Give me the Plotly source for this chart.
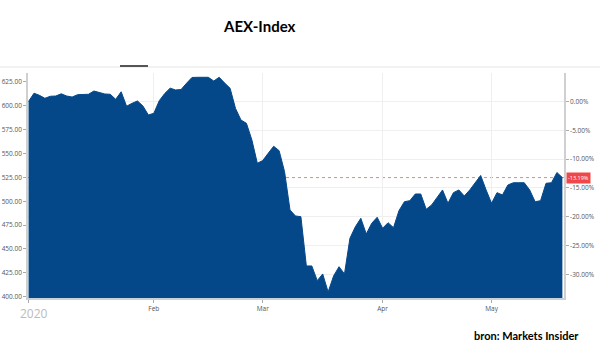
import plotly.graph_objects as go

# AEX closing values per trading day (31 Dec 2019 .. 21 May 2020)
aex_close = [
    604.6, 613.2, 611.0, 607.9, 610.0, 610.3, 612.6, 610.3, 609.2, 611.7,
    611.9, 612.1, 615.5, 614.2, 612.4, 612.1, 606.8, 614.7, 599.6, 602.6,
    605.1, 599.8, 590.4, 592.2, 605.4, 612.9, 618.5, 616.6, 617.1, 623.6,
    629.7, 629.9, 629.9, 629.9, 626.0, 629.9, 623.9, 618.4, 597.2, 585.1,
    581.7, 564.2, 539.8, 542.7, 550.3, 557.6, 553.0, 531.0, 490.8, 484.6,
    483.8, 432.2, 432.2, 416.8, 423.8, 404.9, 421.7, 431.4, 423.8, 461.2,
    473.3, 482.1, 465.7, 476.9, 483.2, 471.7, 477.5, 472.3, 490.1, 499.5,
    500.6, 507.6, 507.6, 491.6, 496.1, 504.5, 511.8, 497.9, 509.0, 511.8,
    505.5, 511.8, 519.1, 527.0, 511.8, 497.9, 509.0, 506.6, 517.0, 519.4,
    519.4, 519.4, 511.8, 499.5, 500.6, 518.8, 519.4, 530.1, 524.8,
]
day_index = list(range(len(aex_close)))

base_value = 604.6
last_change_label = "-13.19%"

month_tick_index = [0, 23, 43, 65, 85]
month_tick_text = ["", "Feb", "Mar", "Apr", "May"]

price_ticks = [400, 425, 450, 475, 500, 525, 550, 575, 600, 625]
pct_ticks = [0, -5, -10, -15, -20, -25, -30]
pct_tick_text = ["0.00%", "-5.00%", "-10.00%", "-15.00%", "-20.00%", "-25.00%", "-30.00%"]

y_range = [398.6, 634.4]
pct_range = [(v / base_value - 1) * 100 for v in y_range]

blue = "#04488a"

fig = go.Figure()
fig.add_trace(go.Scatter(
    x=day_index, y=aex_close, mode="lines", fill="tozeroy",
    line=dict(color=blue, width=1), fillcolor=blue,
    showlegend=False, hoverinfo="skip",
))
fig.add_trace(go.Scatter(x=[None], y=[None], yaxis="y2", showlegend=False))

tick_font = dict(family="Open Sans, sans-serif", size=6.5, color="#555555")

fig.update_layout(
    width=600, height=353,
    margin=dict(l=28, r=36, t=73, b=55),
    paper_bgcolor="white", plot_bgcolor="white",
    xaxis=dict(
        range=[-0.1, 98.3], tickvals=month_tick_index, ticktext=month_tick_text,
        showgrid=True, gridcolor="#efefef", gridwidth=1,
        ticks="outside", ticklen=3, tickcolor="#aaaaaa",
        showline=True, linecolor="#c8d0da", linewidth=1.5,
        tickfont=tick_font, zeroline=False, automargin=False,
    ),
    yaxis=dict(
        range=y_range, tickvals=price_ticks, tickformat=".2f",
        showgrid=False, zeroline=False,
        ticks="outside", ticklen=3, tickcolor="#aaaaaa",
        showline=True, linecolor="#d0d0d0", linewidth=1.5,
        tickfont=tick_font, automargin=False,
    ),
    yaxis2=dict(
        range=pct_range, overlaying="y", side="right",
        tickvals=pct_ticks, ticktext=pct_tick_text,
        showgrid=True, gridcolor="#efefef", gridwidth=1, zeroline=False,
        ticks="outside", ticklen=3, tickcolor="#aaaaaa",
        showline=True, linecolor="#d0d0d0", linewidth=1.5,
        tickfont=tick_font, automargin=False,
    ),
)

# dashed line at the last value
fig.add_shape(type="line", xref="paper", x0=0, x1=1, yref="y",
              y0=aex_close[-1], y1=aex_close[-1], layer="below",
              line=dict(color="#f08080", width=1, dash="3px,3px"))

# separator line and tab indicator at top
fig.add_shape(type="line", xref="paper", yref="paper",
              x0=-28 / 536, x1=(600 - 28) / 536, y0=(298 - 67) / 225, y1=(298 - 67) / 225,
              line=dict(color="#e6e6e6", width=1))
fig.add_shape(type="line", xref="paper", yref="paper",
              x0=(120 - 28) / 536, x1=(148 - 28) / 536, y0=(298 - 66) / 225, y1=(298 - 66) / 225,
              line=dict(color="#555555", width=2))

fig.add_annotation(text="<b>AEX-Index</b>", xref="paper", yref="paper",
                   x=(259.7 - 28) / 536, y=(298 - 26) / 225, showarrow=False,
                   xanchor="center", yanchor="middle",
                   font=dict(family="Lato, sans-serif", size=15, color="black"))
fig.add_annotation(text="<b>bron: Markets Insider</b>", xref="paper", yref="paper",
                   x=(526 - 28) / 536, y=(298 - 335) / 225, showarrow=False,
                   xanchor="center", yanchor="middle",
                   font=dict(family="Lato, sans-serif", size=11, color="black"))
fig.add_annotation(text="2020", xref="paper", yref="paper",
                   x=(33.7 - 28) / 536, y=(298 - 313.5) / 225, showarrow=False,
                   xanchor="center", yanchor="middle",
                   font=dict(family="Open Sans, sans-serif", size=12, color="#bbbbbb"))
fig.add_annotation(text=last_change_label, xref="paper", yref="y",
                   x=1, y=aex_close[-1], xshift=2, showarrow=False,
                   xanchor="left", yanchor="middle",
                   bgcolor="#f04848", borderpad=1,
                   font=dict(family="Open Sans, sans-serif", size=5.5, color="white"))

fig.write_html("out.html")
